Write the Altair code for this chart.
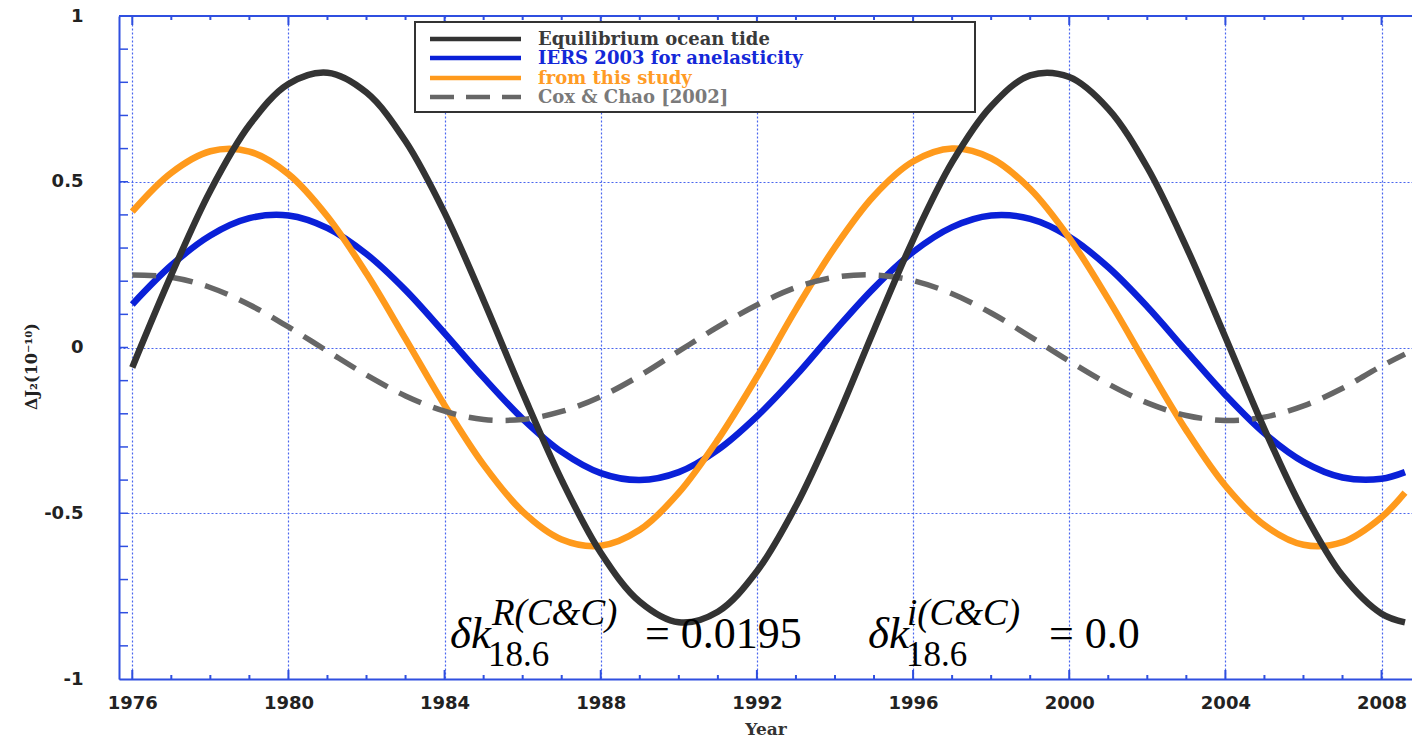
import altair as alt
import pandas as pd

# ---------------- data ----------------
years = [1976, 1977, 1978, 1979, 1980, 1981, 1982, 1983, 1984, 1985,
         1986, 1987, 1988, 1989, 1990, 1991, 1992, 1993, 1994, 1995,
         1996, 1997, 1998, 1999, 2000, 2001, 2002, 2003, 2004, 2005,
         2006, 2007, 2008, 2008.6]

equilibrium = [-0.06, 0.219, 0.473, 0.671, 0.795, 0.829, 0.769, 0.622, 0.406, 0.142,
               -0.137, -0.400, -0.619, -0.767, -0.829, -0.797, -0.675, -0.478, -0.227, 0.053,
               0.325, 0.559, 0.728, 0.821, 0.816, 0.720, 0.543, 0.303, 0.031, -0.246,
               -0.494, -0.688, -0.803, -0.829]

iers2003 = [0.130, 0.248, 0.338, 0.390, 0.398, 0.360, 0.282, 0.173, 0.043, -0.091,
            -0.215, -0.315, -0.379, -0.400, -0.376, -0.309, -0.208, -0.085, 0.051, 0.180,
            0.288, 0.363, 0.398, 0.388, 0.334, 0.242, 0.123, -0.011, -0.143, -0.259,
            -0.345, -0.392, -0.396, -0.376]

this_study = [0.41, 0.527, 0.592, 0.591, 0.523, 0.395, 0.223, 0.026, -0.174, -0.354,
              -0.495, -0.579, -0.598, -0.550, -0.438, -0.278, -0.089, 0.115, 0.303, 0.458,
              0.561, 0.600, 0.571, 0.478, 0.331, 0.146, -0.055, -0.250, -0.417, -0.536,
              -0.595, -0.587, -0.512, -0.438]

cox_chao = [0.219, 0.212, 0.181, 0.129, 0.062, -0.011, -0.083, -0.146, -0.192, -0.217,
            -0.217, -0.193, -0.148, -0.085, -0.011, 0.062, 0.128, 0.181, 0.212, 0.219,
            0.202, 0.162, 0.104, 0.033, -0.041, -0.110, -0.167, -0.205, -0.220, -0.210,
            -0.176, -0.123, -0.056, -0.02]

series_names = ["Equilibrium ocean tide", "IERS 2003 for anelasticity",
                "from this study", "Cox & Chao [2002]"]
series_values = [equilibrium, iers2003, this_study, cox_chao]
series_colors = ["#333333", "#0a20d8", "#ff9a1c", "#666666"]
label_colors = ["#3a3a3a", "#1428d8", "#ff9b25", "#7a7a7a"]

x_major = [1976, 1980, 1984, 1988, 1992, 1996, 2000, 2004, 2008]
x_minor = list(range(1976, 2009))
y_major = [-1, -0.5, 0, 0.5, 1]
y_minor = [-0.9, -0.8, -0.7, -0.6, -0.5, -0.4, -0.3, -0.2, -0.1, 0.0,
           0.1, 0.2, 0.3, 0.4, 0.5, 0.6, 0.7, 0.8, 0.9]

# ---------------- layout / style ----------------
W, H = 1293, 663
X0, X1 = 1975.66, 2008.78
BLUE = "#2f4fe0"
GRID = "#4a66ee"

xs = alt.Scale(domain=[X0, X1], nice=False, zero=False)
ys = alt.Scale(domain=[-1, 1], nice=False, zero=False)

xaxis = alt.Axis(values=x_major, labelExpr="'' + datum.value", grid=True,
                 gridColor=GRID, gridDash=[2, 2], gridWidth=1.2, gridOpacity=1,
                 ticks=False, domainColor=BLUE, domainWidth=2,
                 labelFont="DejaVu Sans", labelFontWeight="bold", labelFontSize=18,
                 labelColor="#222222", labelPadding=15, labelFlush=False,
                 title="Year", titleFont="DejaVu Serif", titleFontWeight="bold",
                 titleFontSize=17, titleColor="#333333", titlePadding=9)
yaxis = alt.Axis(values=y_major, labelExpr="'' + datum.value", grid=True,
                 gridColor=GRID, gridDash=[2, 2], gridWidth=1.2, gridOpacity=1,
                 ticks=False, domainColor=BLUE, domainWidth=2,
                 labelFont="DejaVu Sans", labelFontWeight="bold", labelFontSize=18,
                 labelColor="#222222", labelPadding=36, labelFlush=False,
                 title="ΔJ₂(10⁻¹⁰)", titleFont="DejaVu Serif", titleFontWeight="bold",
                 titleFontSize=16, titleColor="#222222", titleX=-88, titleY=350,
                 titleAngle=270, titleBaseline="middle", titleAlign="center")

X = alt.X("year:Q", scale=xs, axis=xaxis)
Y = alt.Y("value:Q", scale=ys, axis=yaxis)

dummy = pd.DataFrame({"a": [0]})

layers = []

# minor / major ticks (inward)
xt = pd.DataFrame({"year": x_minor})
xt["major"] = xt["year"].isin(x_major)
xt_minor = xt[~xt["major"]]
xt_major = xt[xt["major"]]
for d, ln in [(xt_minor, 4), (xt_major, 9)]:
    layers.append(alt.Chart(d).mark_rule(color=BLUE, strokeWidth=2).encode(
        x=X, y=alt.value(H), y2=alt.value(H - ln)))
    layers.append(alt.Chart(d).mark_rule(color=BLUE, strokeWidth=2).encode(
        x=X, y=alt.value(0), y2=alt.value(ln)))
yt = pd.DataFrame({"value": y_minor})
layers.append(alt.Chart(yt).mark_rule(color=BLUE, strokeWidth=1.5).encode(
    y=Y, x=alt.value(0), x2=alt.value(9)))

# top border
layers.append(alt.Chart(dummy).mark_rule(color=BLUE, strokeWidth=2).encode(
    x=alt.value(0), x2=alt.value(W), y=alt.value(0)))

# curves (draw order: blue, orange, grey dashed, black)
for idx in [1, 2, 3, 0]:
    d = pd.DataFrame({"year": years, "value": series_values[idx]})
    kw = dict(color=series_colors[idx], strokeWidth=6.5, interpolate="catmull-rom",
              strokeCap="butt", clip=True)
    if idx == 3:
        kw["strokeDash"] = [24, 13]
        kw["strokeWidth"] = 5.5
    layers.append(alt.Chart(d).mark_line(**kw).encode(x=X, y=Y))

# legend (manual, to keep per-entry text colours)
LX0, LX1, LY0, LY1 = 296, 856, 6, 96
layers.append(alt.Chart(dummy).mark_rect(fill="white", stroke="#333333", strokeWidth=2).encode(
    x=alt.value(LX0), x2=alt.value(LX1), y=alt.value(LY0), y2=alt.value(LY1)))
row_y = [23, 42, 62, 81]
for i in range(4):
    rk = dict(color=series_colors[i], strokeWidth=4.5)
    if i == 3:
        rk["strokeDash"] = [24, 12]
    layers.append(alt.Chart(dummy).mark_rule(**rk).encode(
        x=alt.value(311), x2=alt.value(402), y=alt.value(row_y[i])))
    layers.append(alt.Chart(dummy).mark_text(
        text=series_names[i], font="DejaVu Serif", fontWeight="bold", fontSize=18,
        color=label_colors[i], align="left", baseline="middle").encode(
        x=alt.value(419), y=alt.value(row_y[i] + 1)))

# annotations
def txt(t, x, y, size, italic=False):
    kw = dict(text=t, font="Liberation Serif", fontSize=size, color="#000000",
              align="left", baseline="alphabetic")
    if italic:
        kw["fontStyle"] = "italic"
    return alt.Chart(dummy).mark_text(**kw).encode(x=alt.value(x), y=alt.value(y))

layers += [
    txt("δk", 331, 632, 45, True),
    txt("R(C&C)", 373, 609, 37, True),
    txt("18.6", 369, 650, 35),
    txt("= 0.0195", 526, 632, 44),
    txt("δk", 749, 632, 45, True),
    txt("i(C&C)", 788, 609, 37, True),
    txt("18.6", 787, 650, 35),
    txt("= 0.0", 930, 632, 44),
]

chart = alt.layer(*layers).properties(
    width=W, height=H,
    padding={"left": 119, "top": 16, "right": 0, "bottom": 58},
    autosize=alt.AutoSizeParams(type="none"),
    background="white",
).configure_view(stroke=None)

chart.save("out.html", embed_options={"renderer": "svg", "actions": False})
